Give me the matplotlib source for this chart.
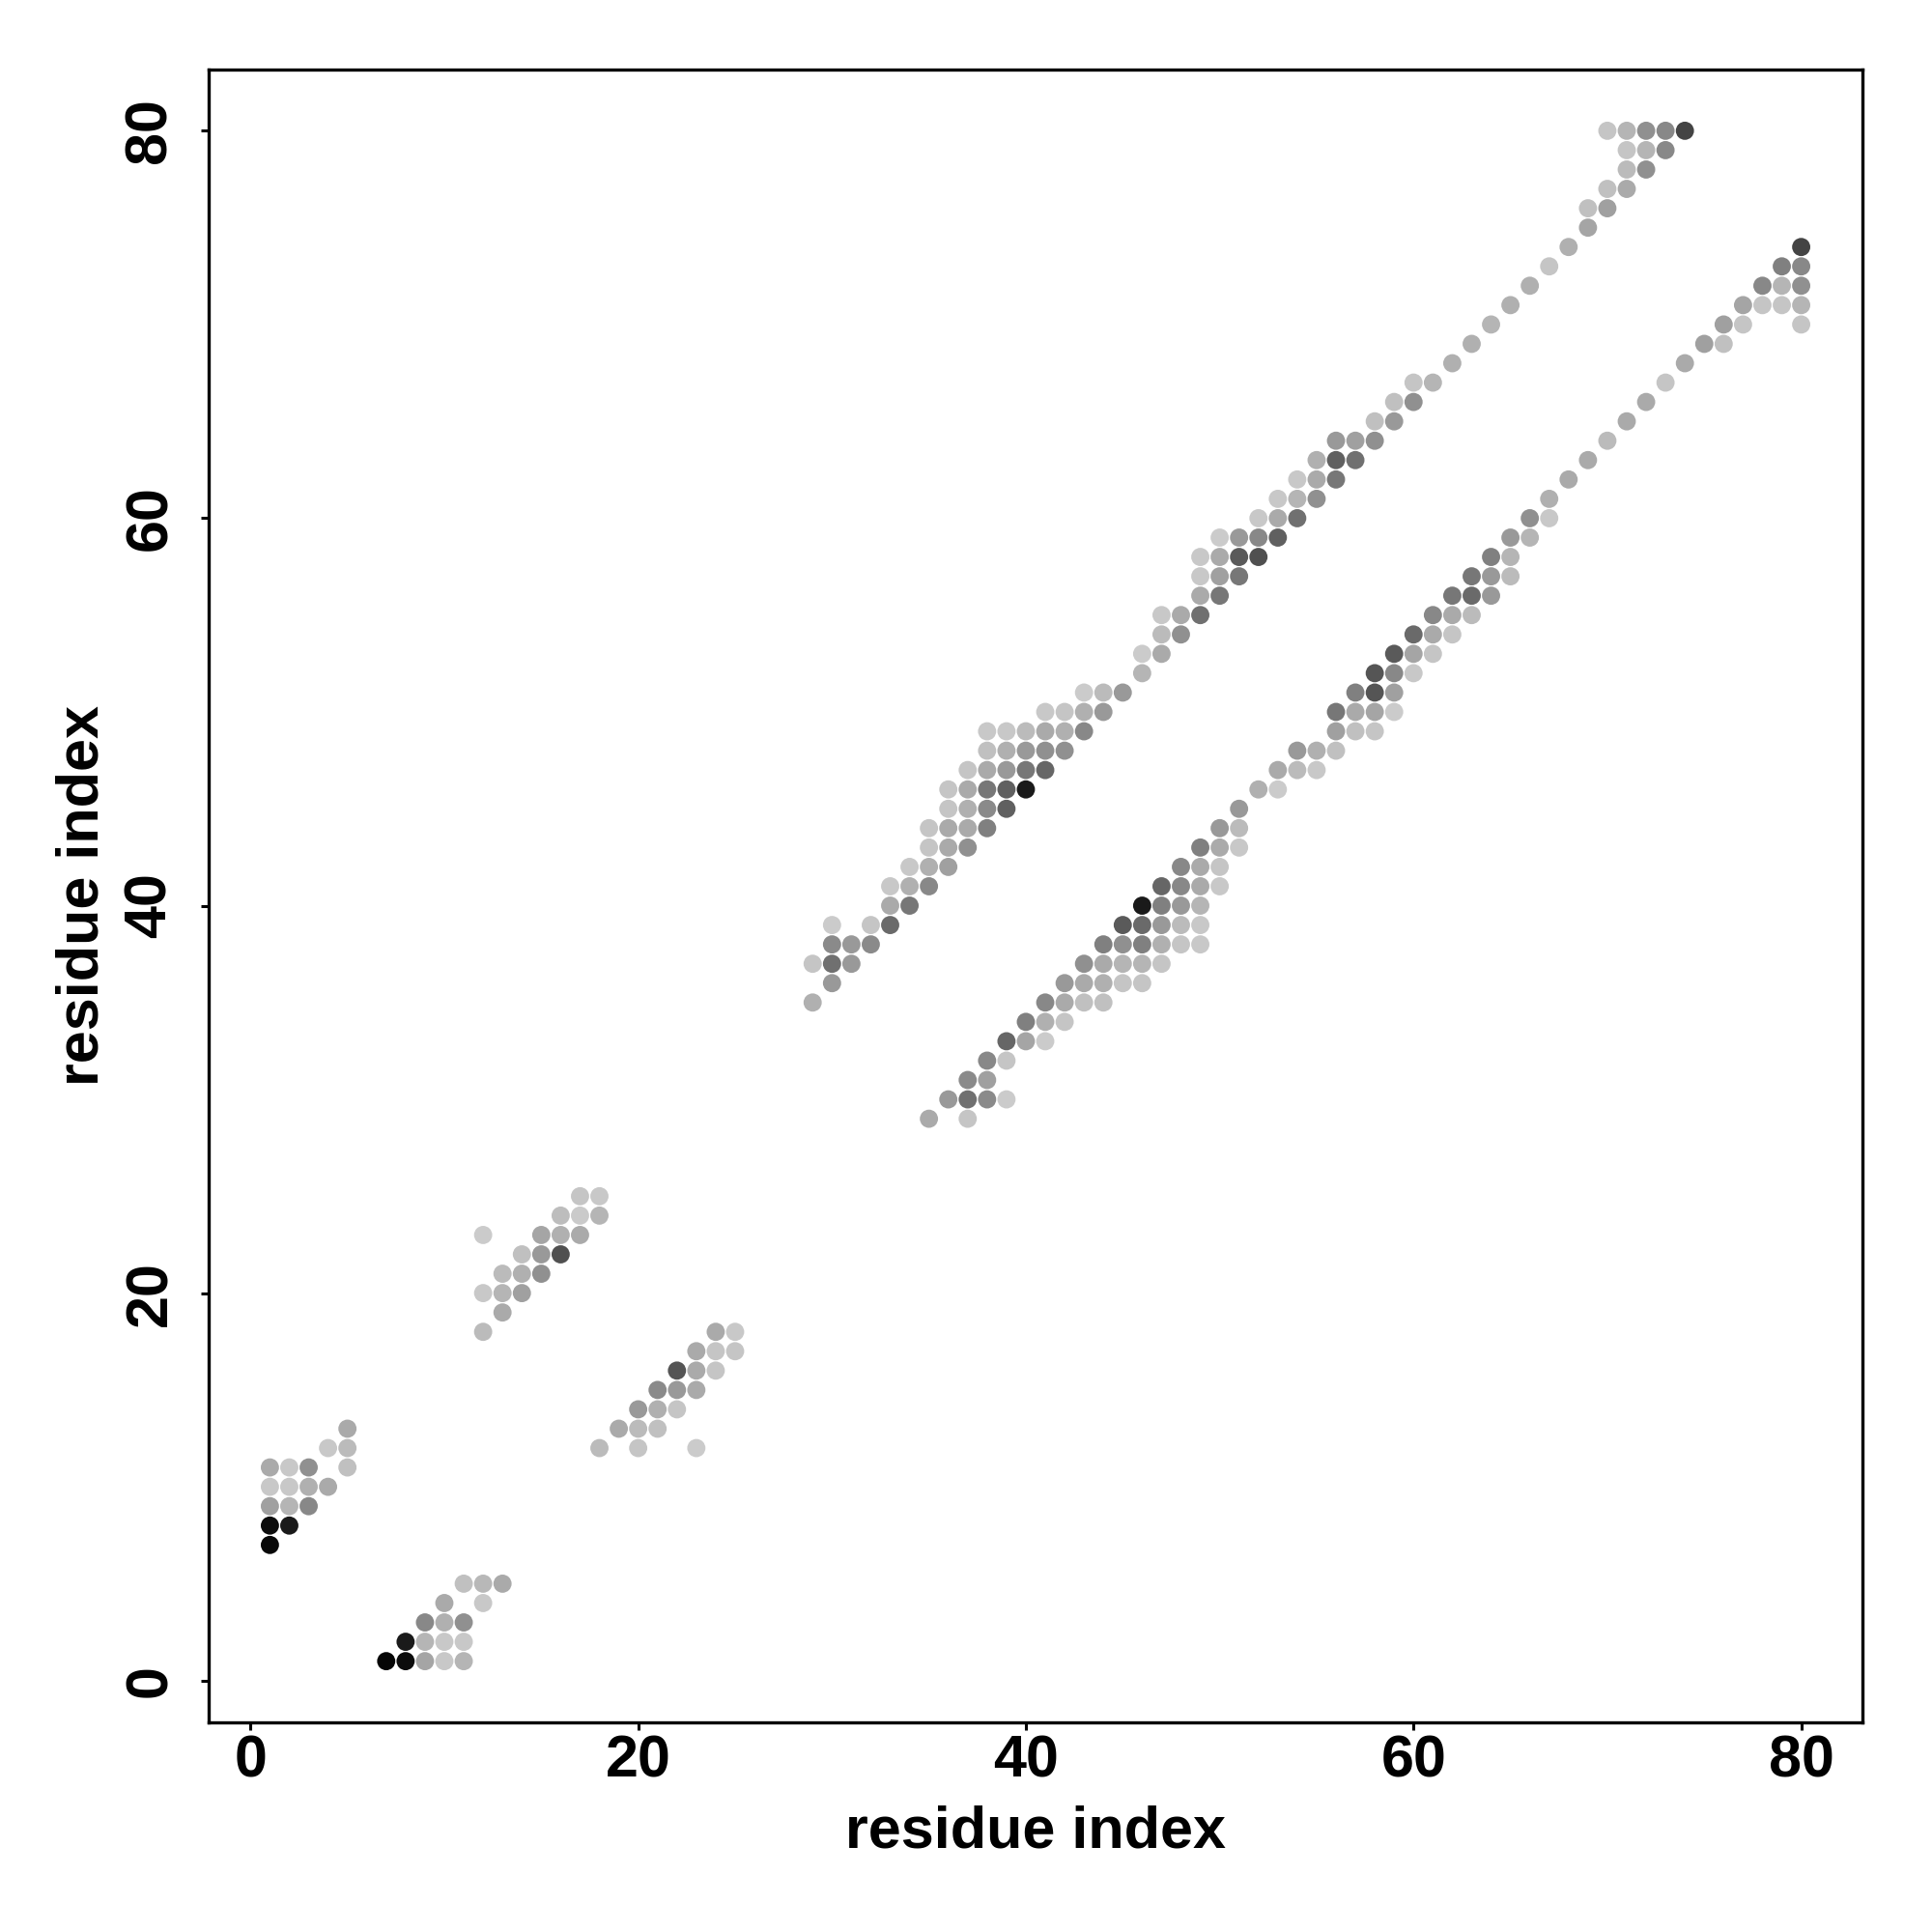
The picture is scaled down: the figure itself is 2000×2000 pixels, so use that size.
import matplotlib
matplotlib.use('Agg')
import matplotlib.pyplot as plt

# contact map, residue i vs residue j, shade = grey level (0 black .. 255 white)

# N-terminal block near the diagonal start
block_a_x = [1, 1, 2, 1, 2, 3, 1, 2, 3, 4, 1, 2, 3, 5, 4, 5, 5]
block_a_y = [7, 8, 8, 9, 9, 9, 10, 10, 10, 10, 11, 11, 11, 11, 12, 12, 13]
block_a_g = [0x08, 0x0c, 0x1a, 0xa0, 0xb5, 0x88, 0xc8, 0xc8, 0xb0, 0xaa,
             0xaa, 0xc8, 0x90, 0xc0, 0xc8, 0xbb, 0xaa]

block_b_x = [7, 8, 9, 10, 11, 8, 9, 10, 11, 9, 10, 11, 10, 12, 11, 12, 13]
block_b_y = [1, 1, 1, 1, 1, 2, 2, 2, 2, 3, 3, 3, 4, 4, 5, 5, 5]
block_b_g = [0x05, 0x0c, 0xa5, 0xc8, 0xb5, 0x1a, 0xb5, 0xc8, 0xc8,
             0x88, 0xb0, 0x90, 0xaa, 0xc8, 0xc0, 0xb8, 0xaa]

block_c_x = [12, 13, 12, 13, 14, 13, 14, 15, 14, 15, 16, 12, 15, 16, 17,
             16, 17, 18, 17, 18]
block_c_y = [18, 19, 20, 20, 20, 21, 21, 21, 22, 22, 22, 23, 23, 23, 23,
             24, 24, 24, 25, 25]
block_c_g = [0xbb, 0xaa, 0xc8, 0xb5, 0xa0, 0xbb, 0xb0, 0x90, 0xc0, 0x99,
             0x50, 0xcb, 0xa5, 0xb0, 0xaa, 0xbd, 0xca, 0xb5, 0xc5, 0xc8]

block_d_x = [18, 20, 23, 19, 20, 21, 20, 21, 22, 21, 22, 23, 22, 23, 24,
             23, 24, 25, 24, 25]
block_d_y = [12, 12, 12, 13, 13, 13, 14, 14, 14, 15, 15, 15, 16, 16, 16,
             17, 17, 17, 18, 18]
block_d_g = [0xbb, 0xc5, 0xcb, 0xaa, 0xbb, 0xc0, 0x99, 0xb0, 0xc5, 0x8a,
             0x99, 0xaa, 0x55, 0xaa, 0xc5, 0xaa, 0xc5, 0xc5, 0xaa, 0xc8]

# long band above the diagonal (29,35) -> (74,80)
upper_x = [29,
           30,
           29, 30, 31,
           30, 31, 32,
           30, 32, 33,
           33, 34,
           33, 34, 35,
           34, 35, 36,
           35, 36, 37,
           35, 36, 37, 38,
           36, 37, 38, 39,
           36, 37, 38, 39, 40,
           37, 38, 39, 40, 41,
           38, 39, 40, 41, 42,
           38, 39, 40, 41, 42, 43,
           41, 42, 43, 44,
           43, 44, 45,
           46,
           46, 47,
           47, 48,
           47, 48, 49,
           49, 50,
           49, 50, 51,
           49, 50, 51, 52,
           50, 51, 52, 53,
           52, 53, 54,
           53, 54, 55,
           54, 55, 56,
           55, 56, 57,
           56, 57, 58,
           58, 59,
           59, 60,
           60, 61,
           62, 63, 64, 65, 66, 67, 68, 69,
           69, 70,
           70, 71,
           71, 72,
           71, 72, 73,
           70, 71, 72, 73, 74]
upper_y = [35,
           36,
           37, 37, 37,
           38, 38, 38,
           39, 39, 39,
           40, 40,
           41, 41, 41,
           42, 42, 42,
           43, 43, 43,
           44, 44, 44, 44,
           45, 45, 45, 45,
           46, 46, 46, 46, 46,
           47, 47, 47, 47, 47,
           48, 48, 48, 48, 48,
           49, 49, 49, 49, 49, 49,
           50, 50, 50, 50,
           51, 51, 51,
           52,
           53, 53,
           54, 54,
           55, 55, 55,
           56, 56,
           57, 57, 57,
           58, 58, 58, 58,
           59, 59, 59, 59,
           60, 60, 60,
           61, 61, 61,
           62, 62, 62,
           63, 63, 63,
           64, 64, 64,
           65, 65,
           66, 66,
           67, 67,
           68, 69, 70, 71, 72, 73, 74, 75,
           76, 76,
           77, 77,
           78, 78,
           79, 79, 79,
           80, 80, 80, 80, 80]
upper_g = [0xb0,
           0x99,
           0xc5, 0x70, 0x99,
           0x8a, 0x99, 0x8a,
           0xcb, 0xc5, 0x6a,
           0xaa, 0x77,
           0xc8, 0xb0, 0x88,
           0xc8, 0xb0, 0xa0,
           0xc5, 0xaa, 0x90,
           0xc5, 0xaa, 0xaa, 0x80,
           0xc5, 0xb0, 0x8a, 0x60,
           0xc5, 0xaa, 0x77, 0x60, 0x1a,
           0xc5, 0xaa, 0x99, 0x77, 0x66,
           0xc0, 0xb0, 0x99, 0x90, 0x90,
           0xc8, 0xc8, 0xbb, 0xaa, 0xb0, 0x88,
           0xc8, 0xc5, 0xb0, 0x99,
           0xcb, 0xbb, 0x99,
           0xb5,
           0xcb, 0xaa,
           0xbb, 0x90,
           0xc8, 0xaa, 0x70,
           0xaa, 0x77,
           0xc8, 0xa0, 0x77,
           0xc8, 0xaa, 0x5a, 0x50,
           0xcb, 0x99, 0x88, 0x60,
           0xc8, 0xaa, 0x70,
           0xc8, 0xb5, 0x90,
           0xc8, 0xaa, 0x77,
           0xb0, 0x60, 0x70,
           0x99, 0xa0, 0x90,
           0xc0, 0x99,
           0xc0, 0x90,
           0xc5, 0xb5,
           0xb0, 0xb0, 0xb5, 0xb0, 0xb0, 0xc5, 0xb0, 0xa5,
           0xc0, 0xa0,
           0xc0, 0xaa,
           0xbb, 0x90,
           0xc5, 0xb5, 0x88,
           0xc5, 0xb5, 0x90, 0x88, 0x44]

# long band below the diagonal (35,29) -> (80,74)
lower_x = [35, 37,
           36, 37, 38, 39,
           37, 38,
           38, 39,
           39, 40, 41,
           40, 41, 42,
           41, 42, 43, 44,
           42, 43, 44, 45, 46,
           43, 44, 45, 46, 47,
           44, 45, 46, 47, 48, 49,
           45, 46, 47, 48, 49,
           46, 47, 48, 49,
           47, 48, 49, 50,
           48, 49, 50,
           49, 50, 51,
           50, 51,
           51,
           52, 53,
           53, 54, 55,
           54, 55, 56,
           56, 57, 58,
           56, 57, 58, 59,
           57, 58, 59,
           58, 59, 60,
           59, 60, 61,
           60, 61, 62,
           61, 62, 63,
           62, 63, 64,
           63, 64, 65,
           64, 65,
           65, 66,
           66, 67,
           67, 68, 69, 70, 71, 72, 73, 74,
           75, 76,
           76, 77, 80,
           77, 78, 79, 80,
           78, 79, 80,
           79, 80,
           80]
lower_y = [29, 29,
           30, 30, 30, 30,
           31, 31,
           32, 32,
           33, 33, 33,
           34, 34, 34,
           35, 35, 35, 35,
           36, 36, 36, 36, 36,
           37, 37, 37, 37, 37,
           38, 38, 38, 38, 38, 38,
           39, 39, 39, 39, 39,
           40, 40, 40, 40,
           41, 41, 41, 41,
           42, 42, 42,
           43, 43, 43,
           44, 44,
           45,
           46, 46,
           47, 47, 47,
           48, 48, 48,
           49, 49, 49,
           50, 50, 50, 50,
           51, 51, 51,
           52, 52, 52,
           53, 53, 53,
           54, 54, 54,
           55, 55, 55,
           56, 56, 56,
           57, 57, 57,
           58, 58,
           59, 59,
           60, 60,
           61, 62, 63, 64, 65, 66, 67, 68,
           69, 69,
           70, 70, 70,
           71, 71, 71, 71,
           72, 72, 72,
           73, 73,
           74]
lower_g = [0xaa, 0xc5,
           0x99, 0x70, 0x8a, 0xcb,
           0x8a, 0xa0,
           0x88, 0xc5,
           0x66, 0xa5, 0xcb,
           0x80, 0xb0, 0xc5,
           0x88, 0xaa, 0xc0, 0xc0,
           0x99, 0xaa, 0xb0, 0xc5, 0xc5,
           0x90, 0xaa, 0xb5, 0xb5, 0xc5,
           0x80, 0x90, 0x80, 0xb0, 0xc5, 0xc8,
           0x5a, 0x6a, 0x99, 0xbb, 0xc8,
           0x1a, 0x80, 0x99, 0xb5,
           0x66, 0x88, 0xaa, 0xc8,
           0x88, 0xaa, 0xc5,
           0x80, 0xaa, 0xc8,
           0x99, 0xbb,
           0x99,
           0xb0, 0xcb,
           0xaa, 0xbb, 0xc8,
           0x99, 0xb0, 0xc0,
           0xa0, 0xc0, 0xc5,
           0x77, 0xaa, 0xa5, 0xcb,
           0x80, 0x55, 0xa0,
           0x55, 0x88, 0xc8,
           0x5a, 0xa5, 0xc5,
           0x6a, 0xaa, 0xc5,
           0x88, 0xaa, 0xbb,
           0x77, 0x6a, 0x99,
           0x77, 0x99, 0xbb,
           0x80, 0xb5,
           0x99, 0xb5,
           0x90, 0xc8,
           0xb0, 0xaa, 0xaa, 0xbb, 0xaa, 0xaa, 0xc5, 0xaa,
           0xa0, 0xc0,
           0xa0, 0xc5, 0xc5,
           0xa5, 0xc5, 0xc5, 0xb5,
           0x88, 0xb5, 0x90,
           0x80, 0x88,
           0x44]

ticks = [0, 20, 40, 60, 80]


def grey(levels):
    return [(g / 255, g / 255, g / 255) for g in levels]


plt.rcParams['font.family'] = ['Liberation Sans', 'DejaVu Sans']
plt.rcParams['font.weight'] = 'bold'

fig = plt.figure(figsize=(10, 10), dpi=200)
ax = fig.add_axes([0.1080, 0.1085, 0.8560, 0.8555])

blocks = [(block_a_x, block_a_y, block_a_g),
          (block_b_x, block_b_y, block_b_g),
          (block_c_x, block_c_y, block_c_g),
          (block_d_x, block_d_y, block_d_g),
          (upper_x, upper_y, upper_g),
          (lower_x, lower_y, lower_g)]
for bx, by, bg in blocks:
    ax.scatter(bx, by, s=46, c=grey(bg), linewidths=0)

ax.set_xlim(-2.16, 83.16)
ax.set_ylim(-2.16, 83.16)
ax.set_xticks(ticks)
ax.set_yticks(ticks)
ax.tick_params(direction='out', length=2.9, width=1.1, labelsize=22)
ax.tick_params(axis='x', pad=1.5)
ax.tick_params(axis='y', pad=8.3)
for lab in ax.get_yticklabels():
    lab.set_rotation(90)
    lab.set_va('center')
for sp in ax.spines.values():
    sp.set_linewidth(1.2)

ax.set_xlabel('residue index', fontsize=22, fontweight='bold')
ax.set_ylabel('residue index', fontsize=22, fontweight='bold')
ax.xaxis.set_label_coords(0.5, -0.0756)
ax.xaxis.label.set_va('baseline')
ax.yaxis.set_label_coords(-0.0668, 0.5)
ax.yaxis.label.set_va('baseline')

fig.savefig('out.png', dpi=200)
